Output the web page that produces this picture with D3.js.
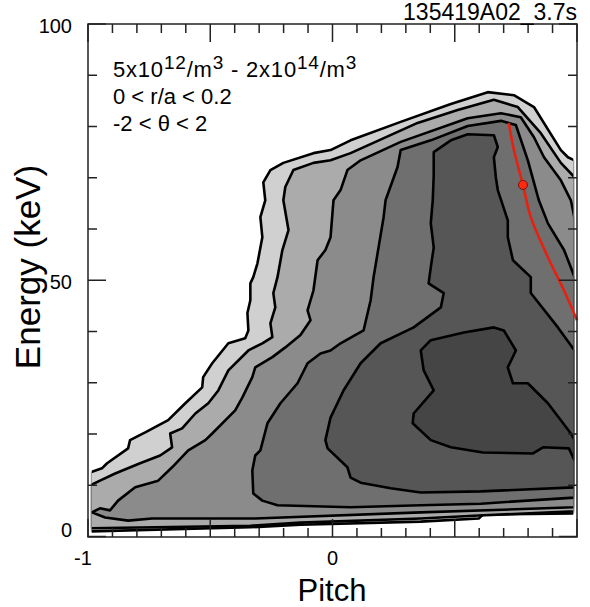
<!DOCTYPE html>
<html>
<head>
<meta charset="utf-8">
<script src="https://cdn.jsdelivr.net/npm/d3@7"></script>
<style>
body { margin: 0; background: #fff; }
svg { display: block; }
text { font-family: "Liberation Sans", Arial, Helvetica, sans-serif; fill: #000; }
</style>
</head>
<body>
<svg width="590" height="607"></svg>
<script>
// contour regions, [pitch, energy keV], outermost level first
var level1 = [[-0.99,1.0],[-0.99,12.5],[-0.943,13.3],[-0.922,14.3],[-0.836,17.2],[-0.828,18.8],[-0.766,20.3],[-0.672,22.7],[-0.602,26.0],[-0.533,29.1],[-0.529,31.1],[-0.492,33.8],[-0.426,37.7],[-0.357,38.7],[-0.344,40.2],[-0.348,43.6],[-0.336,46.1],[-0.336,49.4],[-0.324,50.6],[-0.307,53.3],[-0.287,58.4],[-0.295,62.3],[-0.275,65.6],[-0.283,69.1],[-0.254,71.5],[-0.201,72.9],[-0.078,74.8],[-0.008,75.4],[0.074,77.3],[0.279,80.9],[0.484,84.4],[0.635,86.7],[0.742,86.1],[0.824,83.8],[0.934,75.4],[0.963,74.0],[0.99,73.4],[0.99,4.5],[0.615,4.3],[0.598,3.5],[0.361,2.9],[-0.131,2.3],[-0.336,1.8]];
var level2 = [[-0.99,1.6],[-0.99,10.0],[-0.951,10.9],[-0.889,12.3],[-0.787,14.3],[-0.705,15.8],[-0.656,17.4],[-0.664,20.1],[-0.615,21.1],[-0.561,24.0],[-0.508,26.0],[-0.467,28.5],[-0.426,32.4],[-0.344,36.3],[-0.287,37.7],[-0.246,38.9],[-0.254,41.6],[-0.234,44.7],[-0.242,47.5],[-0.225,50.6],[-0.205,55.9],[-0.180,59.8],[-0.201,65.6],[-0.193,68.2],[-0.160,71.5],[-0.078,72.9],[-0.008,73.4],[0.074,74.8],[0.348,80.7],[0.512,83.2],[0.660,85.2],[0.758,83.8],[0.852,78.7],[0.934,72.9],[0.99,70.1],[0.99,4.9],[0.598,4.1],[0.361,3.5],[-0.131,2.7],[-0.336,2.1]];
var level3 = [[-0.984,4.7],[-0.951,5.5],[-0.910,5.1],[-0.877,7.0],[-0.807,9.6],[-0.713,10.9],[-0.656,13.5],[-0.590,16.8],[-0.520,18.8],[-0.492,20.1],[-0.398,24.6],[-0.369,27.1],[-0.328,31.1],[-0.316,33.0],[-0.246,35.0],[-0.193,36.9],[-0.131,39.3],[-0.090,42.2],[-0.102,44.1],[-0.078,48.0],[-0.061,53.9],[-0.029,55.9],[-0.008,58.4],[0.004,65.6],[0.033,67.6],[0.061,71.5],[0.115,73.4],[0.279,77.0],[0.553,81.6],[0.689,82.6],[0.770,81.8],[0.824,77.9],[0.865,74.0],[0.934,69.5],[0.975,65.6],[0.99,62.1],[0.99,5.7],[0.361,4.7],[-0.316,3.5],[-0.738,3.5],[-0.836,3.1],[-0.930,3.7]];
var level4 = [[-0.324,8.4],[-0.328,12.9],[-0.316,15.8],[-0.295,16.8],[-0.266,22.1],[-0.213,26.0],[-0.143,29.9],[-0.102,33.8],[-0.049,35.7],[-0.008,36.3],[0.033,37.7],[0.127,40.2],[0.156,46.1],[0.168,50.6],[0.209,62.3],[0.217,65.6],[0.266,72.1],[0.279,75.4],[0.402,77.3],[0.553,80.1],[0.689,81.1],[0.750,80.3],[0.799,73.4],[0.844,65.6],[0.881,61.1],[0.947,55.9],[0.975,52.5],[0.99,50.6],[0.99,7.6],[0.607,6.4],[0.361,6.1],[0.074,5.7],[-0.225,6.1],[-0.287,7.0]];
var level5 = [[0.074,11.5],[0.061,13.5],[-0.020,17.2],[-0.029,18.8],[-0.008,23.2],[0.045,28.5],[0.115,33.8],[0.197,37.7],[0.332,40.8],[0.443,44.7],[0.455,47.5],[0.393,49.4],[0.402,52.5],[0.414,56.4],[0.402,61.1],[0.410,65.6],[0.414,70.5],[0.414,75.0],[0.484,77.3],[0.553,78.5],[0.660,78.3],[0.676,76.0],[0.660,74.0],[0.668,70.1],[0.676,67.6],[0.717,61.7],[0.717,58.4],[0.738,53.9],[0.811,50.6],[0.811,47.5],[0.922,40.8],[0.99,36.3],[0.99,9.6],[0.607,8.8],[0.361,8.6],[0.238,9.4],[0.115,10.5]];
var level6 = [[0.361,36.3],[0.402,38.3],[0.537,39.8],[0.660,40.8],[0.701,40.2],[0.750,36.3],[0.717,33.0],[0.738,29.9],[0.799,29.9],[0.881,26.0],[0.975,20.1],[0.99,18.8],[0.99,14.8],[0.967,17.2],[0.861,17.4],[0.820,16.2],[0.615,16.4],[0.484,17.4],[0.402,18.8],[0.328,22.1],[0.332,24.0],[0.414,28.5],[0.373,32.4]];
var levelColors = ['#d0d0d0', '#ababab', '#8b8b8b', '#6f6f6f', '#565656', '#454545'];

// red boundary curve and marker
var redCurve = [[0.721,80.7],[0.742,75.4],[0.779,68.6],[0.811,62.3],[0.881,54.5],[0.947,48.0],[1.0,42.2]];
var redPoint = [0.779, 68.6];

var xLabels = [-1, 0];
var yLabels = [0, 50, 100];
var title = '135419A02_3.7s';

var svg = d3.select('svg');

var scaleX = d3.scaleLinear().domain([-1, 1]).range([88, 577]);
var scaleY = d3.scaleLinear().domain([0, 100]).range([536.5, 24]);

var line = d3.line()
    .x(function(d){ return scaleX(d[0]); })
    .y(function(d){ return scaleY(d[1]); });

var levels = [level1, level2, level3, level4, level5, level6];

// strokes along the data edge are hidden
svg.append('clipPath').attr('id', 'inner')
    .append('rect')
    .attr('x', scaleX(-0.985)).attr('y', 0)
    .attr('width', scaleX(0.985) - scaleX(-0.985)).attr('height', 607);

var plot = svg.append('g');
levels.forEach(function(lv, i){
    plot.append('path')
        .attr('d', line(lv) + 'Z')
        .attr('fill', levelColors[i])
        .attr('stroke', 'none');
    plot.append('path')
        .attr('d', line(lv) + 'Z')
        .attr('fill', 'none')
        .attr('stroke', '#000')
        .attr('stroke-width', 2.6)
        .attr('stroke-linejoin', 'round')
        .attr('clip-path', 'url(#inner)');
});

plot.append('path')
    .attr('d', d3.line().curve(d3.curveCatmullRom)
        .x(function(d){ return scaleX(d[0]); })
        .y(function(d){ return scaleY(d[1]); })(redCurve))
    .attr('fill', 'none')
    .attr('stroke', '#e8200f')
    .attr('stroke-width', 2.6);

plot.append('circle')
    .attr('cx', scaleX(redPoint[0]))
    .attr('cy', scaleY(redPoint[1]))
    .attr('r', 4.5)
    .attr('fill', '#ff2a10')
    .attr('stroke', '#7a1008')
    .attr('stroke-width', 1);

// frame and inward ticks
var axis = svg.append('g').attr('stroke', '#222').attr('stroke-width', 1.5);
var x0 = scaleX.range()[0], x1 = scaleX.range()[1];
var yb = 537, yt = 24;
axis.append('rect')
    .attr('x', x0).attr('y', yt)
    .attr('width', x1 - x0).attr('height', yb - yt)
    .attr('fill', 'none');

scaleX.ticks(20).forEach(function(t){
    var len = Math.abs(t * 2 - Math.round(t * 2)) < 1e-6 ? 18 : 9;
    axis.append('line').attr('x1', scaleX(t)).attr('x2', scaleX(t)).attr('y1', yb).attr('y2', yb - len);
    axis.append('line').attr('x1', scaleX(t)).attr('x2', scaleX(t)).attr('y1', yt).attr('y2', yt + len);
});
scaleY.ticks(10).forEach(function(t){
    var len = t % 50 === 0 ? 18 : 9;
    axis.append('line').attr('y1', scaleY(t)).attr('y2', scaleY(t)).attr('x1', x0).attr('x2', x0 + len);
    axis.append('line').attr('y1', scaleY(t)).attr('y2', scaleY(t)).attr('x1', x1).attr('x2', x1 - len);
});

svg.selectAll('.xlab')
    .data(xLabels)
    .enter()
    .append('text')
    .attr('x', function(d){ return scaleX(d) - (d < 0 ? 5 : 0); })
    .attr('y', 565)
    .attr('text-anchor', 'middle')
    .attr('font-size', 20)
    .text(function(d){ return d; });

svg.selectAll('.ylab')
    .data(yLabels)
    .enter()
    .append('text')
    .attr('x', 72)
    .attr('y', function(d){ return Math.min(scaleY(d) + 9, 537); })
    .attr('text-anchor', 'end')
    .attr('font-size', 20)
    .text(function(d){ return d; });

svg.append('text')
    .attr('x', 332)
    .attr('y', 601)
    .attr('text-anchor', 'middle')
    .attr('font-size', 31)
    .text('Pitch');

svg.append('text')
    .attr('transform', 'translate(40,267) rotate(-90)')
    .attr('text-anchor', 'middle')
    .attr('font-size', 35)
    .text('Energy (keV)');

svg.append('text')
    .attr('x', 577)
    .attr('y', 20)
    .attr('text-anchor', 'end')
    .attr('font-size', 23)
    .text(title);

// annotation block
var note = svg.append('g').attr('font-size', 22);
var t1 = note.append('text').attr('x', 113).attr('y', 77).attr('letter-spacing', 0.8);
t1.append('tspan').text('5x10');
t1.append('tspan').attr('font-size', 19).attr('dy', -8).text('12');
t1.append('tspan').attr('dy', 8).text('/m');
t1.append('tspan').attr('font-size', 19).attr('dy', -8).text('3');
t1.append('tspan').attr('dy', 8).text(' - 2x10');
t1.append('tspan').attr('font-size', 19).attr('dy', -8).text('14');
t1.append('tspan').attr('dy', 8).text('/m');
t1.append('tspan').attr('font-size', 19).attr('dy', -8).text('3');
note.append('text').attr('x', 113).attr('y', 104).text('0 < r/a < 0.2');
note.append('text').attr('x', 113).attr('y', 131).text('-2 < \u03b8 < 2');
</script>
</body>
</html>
